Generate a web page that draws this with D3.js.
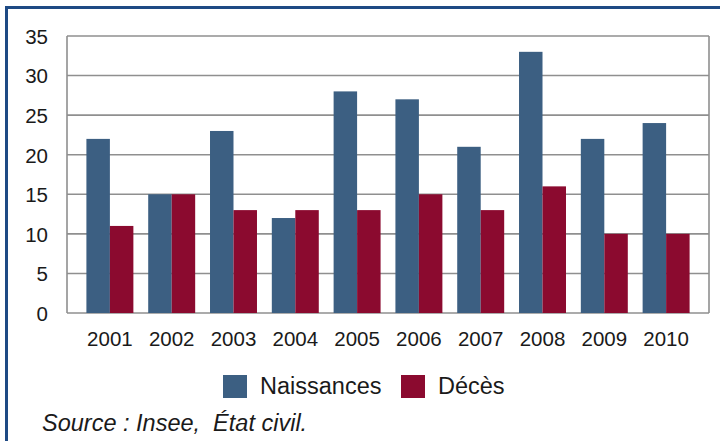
<!DOCTYPE html>
<html><head><meta charset="utf-8">
<script src="https://cdn.jsdelivr.net/npm/d3@7"></script>
<style>html,body{margin:0;padding:0;background:#fff;}svg{display:block;}</style>
</head><body>
<svg id="c" width="720" height="441"></svg>
<script>
const years = ["2001","2002","2003","2004","2005","2006","2007","2008","2009","2010"];
const naissances = [22,15,23,12,28,27,21,33,22,24];
const deces = [11,15,13,13,13,15,13,16,10,10];
const yTicks = [0,5,10,15,20,25,30,35];
const seriesNames = ["Naissances","Décès"];
const colors = ["#3c5f82","#8b0a2f"];

(function(){
const svg = d3.select("#c");
const W = 720, H = 441;
const pL = 67, pR = 709, pT = 36, pB = 313;
const font = "'Liberation Sans', Arial, sans-serif";

// frame
svg.append("line").attr("x1",6.5).attr("x2",6.5).attr("y1",6).attr("y2",H).attr("stroke","#1e4a84").attr("stroke-width",3);
svg.append("line").attr("x1",5).attr("x2",W).attr("y1",7.5).attr("y2",7.5).attr("stroke","#1e4a84").attr("stroke-width",3);

const y = d3.scaleLinear().domain([0,35]).range([pB, pT]);
const x = d3.scaleBand().domain(years).range([pL, pR]).paddingInner(0.24).paddingOuter(0.314);
const xs = d3.scaleBand().domain(seriesNames).range([0, x.bandwidth()]);

// grid
svg.append("g").selectAll("line").data(yTicks).join("line")
  .attr("x1", pL).attr("x2", pR)
  .attr("y1", d=>y(d)).attr("y2", d=>y(d))
  .attr("stroke","#8f8f8f").attr("stroke-width",1.6);
svg.append("line").attr("x1",pL).attr("x2",pL).attr("y1",pT).attr("y2",pB).attr("stroke","#8f8f8f").attr("stroke-width",1.6);
svg.append("line").attr("x1",pR).attr("x2",pR).attr("y1",pT).attr("y2",pB).attr("stroke","#8f8f8f").attr("stroke-width",1.6);

// y axis labels
const yAxis = d3.axisLeft(y).tickValues(yTicks).tickSize(0).tickPadding(0);
const gy = svg.append("g").attr("transform",`translate(${48},0)`).call(yAxis);
gy.select(".domain").remove();
gy.selectAll("text").attr("font-family",font).attr("font-size",20.5).attr("fill","#1a1a1a").attr("dy","0.36em");

// bars
const data = years.map((yr,i)=>({yr, vals:[naissances[i], deces[i]]}));
const g = svg.append("g");
g.selectAll("g").data(data).join("g")
  .attr("transform", d=>`translate(${x(d.yr)},0)`)
  .selectAll("rect").data(d=>d.vals.map((v,j)=>({v, s:seriesNames[j], j})))
  .join("rect")
  .attr("x", d=>xs(d.s)).attr("width", xs.bandwidth())
  .attr("y", d=>y(d.v)).attr("height", d=>y(0)-y(d.v))
  .attr("fill", d=>colors[d.j]);

// x axis labels
const xAxis = d3.axisBottom(x).tickSize(0).tickPadding(0);
const gx = svg.append("g").attr("transform",`translate(0,${pB})`).call(xAxis);
gx.select(".domain").remove();
gx.selectAll("text").attr("font-family",font).attr("font-size",20.5).attr("fill","#1a1a1a").attr("dy",null).attr("y",32.5);

// legend
const legX = [223, 401];
seriesNames.forEach((n,i)=>{
  svg.append("rect").attr("x",legX[i]).attr("y",375).attr("width",24).attr("height",23).attr("fill",colors[i]);
  svg.append("text").attr("x",legX[i]+37).attr("y",394).attr("font-family",font).attr("font-size",23.5).attr("fill","#1a1a1a").text(n);
});

// source
svg.append("text").attr("x",42).attr("y",431).attr("font-family",font).attr("font-size",23.5).attr("font-style","italic").attr("fill","#1a1a1a").attr("xml:space","preserve").text("Source : Insee,  État civil.");
})();
</script>
</body></html>
